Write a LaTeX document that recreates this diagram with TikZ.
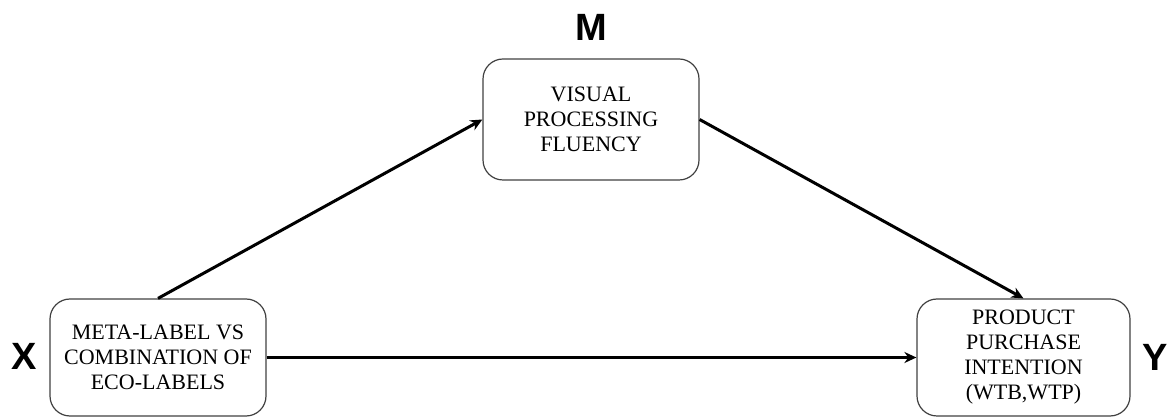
\documentclass[tikz,border=0pt]{standalone}
\usepackage{fontspec}
\setmainfont{Liberation Serif}
\newfontfamily\lettfont{Liberation Sans}
\usetikzlibrary{arrows.meta}
\begin{document}
\begin{tikzpicture}[x=1pt,y=1pt,
  varbox/.style={draw=black!75, line width=1.2pt, rounded corners=20pt,
    minimum width=216pt, minimum height=117pt, align=center,
    font=\fontsize{22}{25}\selectfont, inner sep=0pt},
  letter/.style={font=\lettfont\bfseries\fontsize{38}{38}\selectfont, inner sep=0pt},
  conn/.style={line width=3pt, -{Stealth[length=12pt,width=11pt]}}]
\useasboundingbox (0,0) rectangle (1167,417);
\node[varbox] (x) at (158,59.5) {META-LABEL VS\\COMBINATION OF\\ECO-LABELS};
\node[varbox, minimum height=121pt] (m) at (591,297.5) {VISUAL\\PROCESSING\\FLUENCY};
\node[varbox, minimum width=213pt] (y) at (1023.5,59.5) {PRODUCT\\PURCHASE\\INTENTION\\(WTB,WTP)};
\node[letter] (lx) at (24,60.5) {X};
\node[letter] (lm) at (591,389.5) {M};
\node[letter] (ly) at (1155,60) {Y};
\draw[conn] (x.north) -- (m.west);
\draw[conn] (m.east) -- (y.north);
\draw[conn] (x.east) -- (y.west);
\end{tikzpicture}
\end{document}
